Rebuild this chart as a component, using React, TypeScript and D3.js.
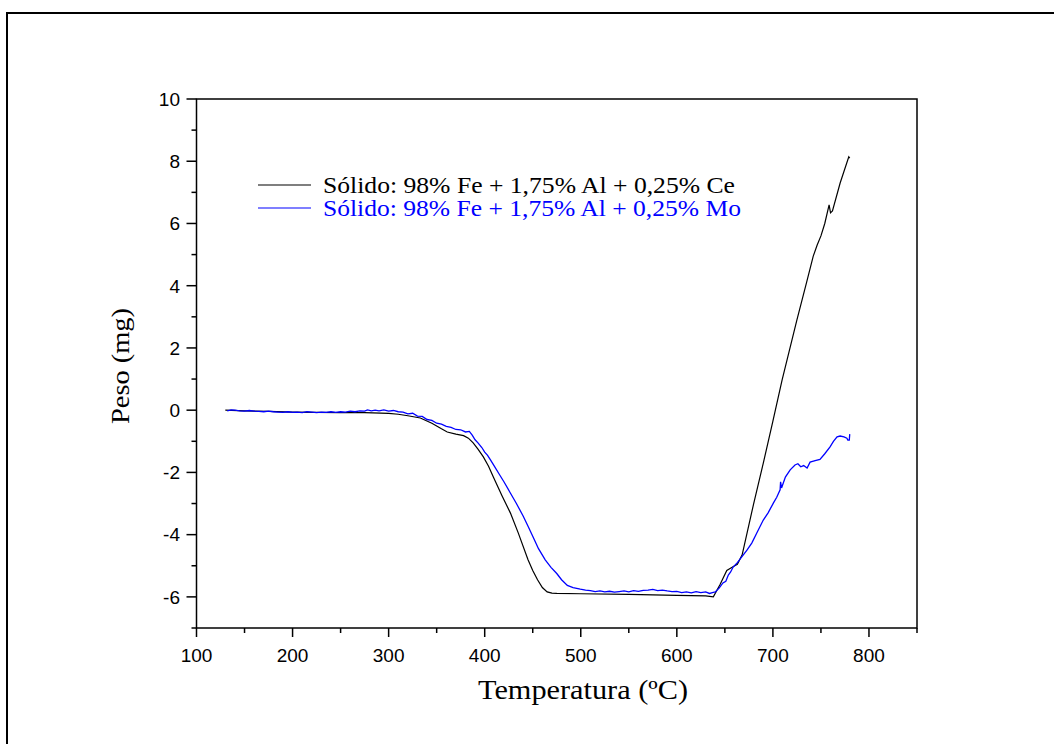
import React from "react";
import * as d3 from "d3";

const ceTemp = [130,150,175,200,225,250,275,300,310,320,333,345,355,361,370,378,383,388,393,398.6,404,409,418,426.7,435,445,450,455,460,465,470,475,500,550,600,630,638,645,652,658,663,668,680,690,700,709.6,725,735,742,746,750,754,758.5,760,762,770,779,780];
const ceWeight = [0.0,-0.02,-0.04,-0.06,-0.07,-0.08,-0.08,-0.1,-0.13,-0.18,-0.25,-0.42,-0.6,-0.7,-0.77,-0.82,-0.9,-1.05,-1.25,-1.5,-1.8,-2.15,-2.75,-3.3,-3.95,-4.8,-5.15,-5.45,-5.7,-5.84,-5.88,-5.89,-5.9,-5.92,-5.95,-5.97,-6.0,-5.6,-5.15,-5.04,-4.95,-4.65,-3.0,-1.7,-0.35,0.97,2.9,4.1,4.95,5.3,5.6,6.0,6.6,6.34,6.4,7.3,8.14,8.1];

const moTemp = [132,136,140,145,150,155,160,165,170,175,180,185,190,195,200,205,210,215,220,225,230,235,240,245,250,255,260,265,270,275,278,282,286,290,295,300,305,310,315,320,325,330,335,340,345,350,355,360,365,370,375,380,384,387,390,393,397,400,403,406,410,415,420,426.7,433,440,445,450,456,463,469,475,480,486,492,499.5,505,510,515,520,525,530,535,540,545,550,555,560,565,570,575,580,585,590,595,600,605,610,615,620,625,630,634,637,640,644,648,651,653.6,656,658.6,663,668,673,678,684,690,695,700.6,704,707.5,708,709,713,718,723,726,729,732,735.6,738.7,744,749,754,759.5,763,766.8,770,774,777,778,779.5,780];
const moWeight = [-0.02,0.01,0.0,-0.02,-0.03,-0.01,-0.03,-0.04,-0.05,-0.03,-0.05,-0.06,-0.07,-0.05,-0.07,-0.06,-0.08,-0.05,-0.06,-0.08,-0.06,-0.07,-0.05,-0.07,-0.05,-0.06,-0.03,-0.05,-0.02,-0.03,0.01,-0.02,0.0,-0.02,0.01,-0.03,-0.01,-0.05,-0.06,-0.12,-0.1,-0.19,-0.2,-0.3,-0.33,-0.42,-0.45,-0.52,-0.55,-0.62,-0.63,-0.7,-0.68,-0.8,-0.95,-1.05,-1.2,-1.35,-1.45,-1.6,-1.8,-2.05,-2.3,-2.66,-3.0,-3.4,-3.72,-4.05,-4.45,-4.81,-5.05,-5.25,-5.45,-5.63,-5.7,-5.75,-5.78,-5.8,-5.83,-5.81,-5.84,-5.82,-5.85,-5.83,-5.81,-5.84,-5.8,-5.82,-5.79,-5.78,-5.76,-5.8,-5.78,-5.81,-5.83,-5.82,-5.86,-5.84,-5.87,-5.83,-5.86,-5.84,-5.89,-5.86,-5.84,-5.72,-5.55,-5.5,-5.3,-5.2,-5.04,-4.9,-4.7,-4.5,-4.27,-3.9,-3.53,-3.3,-2.98,-2.8,-2.56,-2.3,-2.5,-2.15,-1.92,-1.76,-1.72,-1.82,-1.78,-1.86,-1.67,-1.62,-1.58,-1.4,-1.18,-1.0,-0.86,-0.83,-0.86,-0.9,-0.96,-0.96,-0.77];

const xMajor = [100,200,300,400,500,600,700,800];
const xMinor = [150,250,350,450,550,650,750,850];
const yMajor = [-6,-4,-2,0,2,4,6,8,10];
const yMinor = [-7,-5,-3,-1,1,3,5,7,9];

const seriesNames = ["Sólido: 98% Fe + 1,75% Al + 0,25% Ce", "Sólido: 98% Fe + 1,75% Al + 0,25% Mo"];
const seriesColors = ["#000000", "#0000ff"];
const xTitle = "Temperatura (ºC)";
const yTitle = "Peso (mg)";

export default function App() {
  const W = 1054, H = 744;
  const left = 196.5, right = 917, top = 99, bottom = 628;
  const x = d3.scaleLinear().domain([100, 850]).range([left, right]);
  const y = d3.scaleLinear().domain([-7, 10]).range([bottom, top]);
  const line = d3.line<[number, number]>().x(d => x(d[0])).y(d => y(d[1]));
  const ce: [number, number][] = ceTemp.map((t, i) => [t, ceWeight[i]]);
  const mo: [number, number][] = moTemp.map((t, i) => [t, moWeight[i]]);
  const tickFont = "Arial, 'Liberation Sans', sans-serif";
  const serif = "'Times New Roman', 'Liberation Serif', serif";
  const legendLen = [412, 418];
  return (
    <svg width={W} height={H} style={{ position: "absolute", left: 0, top: 0, background: "#fff" }}>
      <rect x={7} y={13} width={1200} height={900} fill="white" stroke="black" strokeWidth={2} />
      <path d={line(ce) || ""} fill="none" stroke={seriesColors[0]} strokeWidth={1.2} />
      <path d={line(mo) || ""} fill="none" stroke={seriesColors[1]} strokeWidth={1.3} />
      <rect x={left} y={top} width={right - left} height={bottom - top} fill="none" stroke="black" strokeWidth={1.5} />
      {xMajor.map(t => (
        <g key={"xm" + t}>
          <line x1={x(t)} x2={x(t)} y1={bottom} y2={bottom + 9} stroke="black" strokeWidth={1.5} />
          <text x={x(t)} y={662} textAnchor="middle" fontFamily={tickFont} fontSize={19}>{t}</text>
        </g>
      ))}
      {xMinor.map(t => (
        <line key={"xn" + t} x1={x(t)} x2={x(t)} y1={bottom} y2={bottom + 5} stroke="black" strokeWidth={1.5} />
      ))}
      {yMajor.map(t => (
        <g key={"ym" + t}>
          <line x1={left - 10} x2={left} y1={y(t)} y2={y(t)} stroke="black" strokeWidth={1.5} />
          <text x={180} y={y(t)} dy="0.36em" textAnchor="end" fontFamily={tickFont} fontSize={19}>{t}</text>
        </g>
      ))}
      {yMinor.map(t => (
        <line key={"yn" + t} x1={left - 5} x2={left} y1={y(t)} y2={y(t)} stroke="black" strokeWidth={1.5} />
      ))}
      <text x={478} y={699} fontFamily={serif} fontSize={27} textLength={210} lengthAdjust="spacingAndGlyphs">{xTitle}</text>
      <text transform={`translate(129, ${424}) rotate(-90)`} fontFamily={serif} fontSize={26} textLength={116} lengthAdjust="spacingAndGlyphs">{yTitle}</text>
      {seriesNames.map((n, i) => (
        <g key={n}>
          <line x1={258} x2={311} y1={185 + i * 23} y2={185 + i * 23} stroke={seriesColors[i]} strokeWidth={1.2} />
          <text x={323} y={193 + i * 23} fontFamily={serif} fontSize={23} fill={seriesColors[i]} textLength={legendLen[i]} lengthAdjust="spacingAndGlyphs">{n}</text>
        </g>
      ))}
    </svg>
  );
}
